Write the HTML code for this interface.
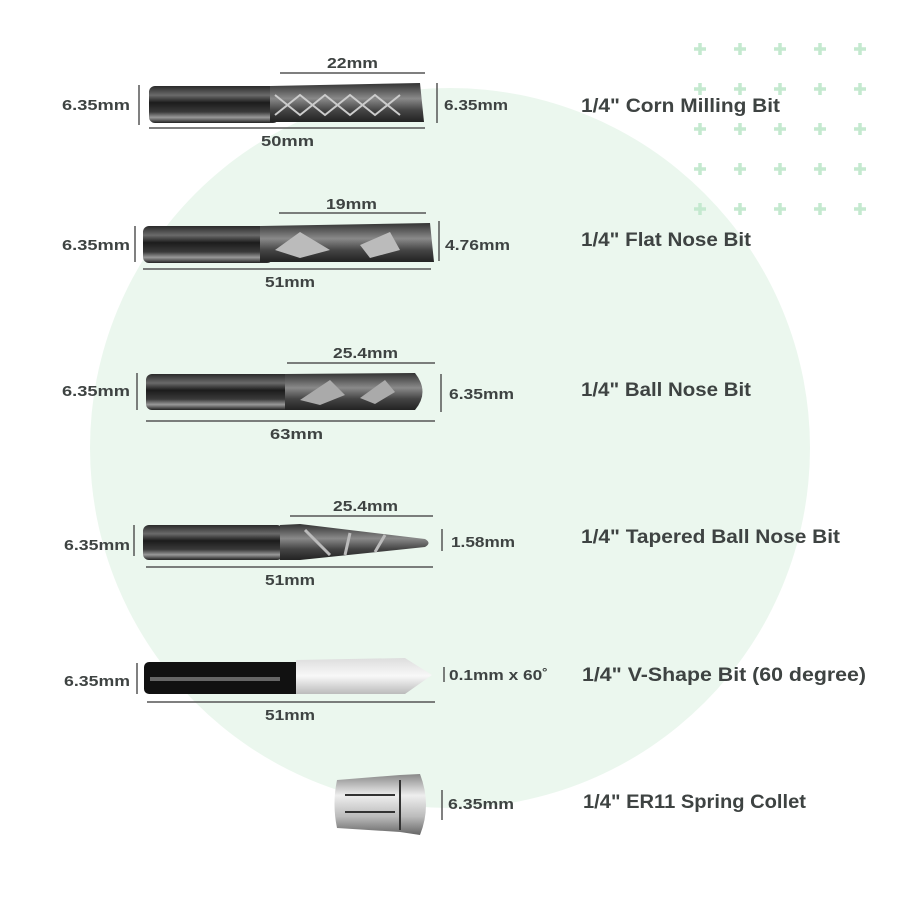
<!DOCTYPE html>
<html><head><meta charset="utf-8"><style>
body{margin:0;background:#fff}
svg{display:block}
text{font-family:"Liberation Sans",sans-serif;font-weight:bold;fill:#3e4342}
.s{font-size:15px}
.t{font-size:19.5px}
.l{stroke:#555;stroke-width:1.5}
</style></head><body>
<svg width="900" height="900" viewBox="0 0 900 900">
<defs>
<linearGradient id="sh" x1="0" y1="0" x2="0" y2="1">
<stop offset="0" stop-color="#2a2a2a"/><stop offset="0.25" stop-color="#6a6a6a"/><stop offset="0.45" stop-color="#1c1c1c"/><stop offset="0.7" stop-color="#3a3a3a"/><stop offset="0.85" stop-color="#999"/><stop offset="1" stop-color="#222"/></linearGradient>
<linearGradient id="fl" x1="0" y1="0" x2="0" y2="1">
<stop offset="0" stop-color="#333"/><stop offset="0.4" stop-color="#8a8a8a"/><stop offset="0.7" stop-color="#444"/><stop offset="1" stop-color="#222"/></linearGradient>
<linearGradient id="sv" x1="0" y1="0" x2="0" y2="1">
<stop offset="0" stop-color="#ddd"/><stop offset="0.5" stop-color="#f8f8f8"/><stop offset="1" stop-color="#bbb"/></linearGradient>
<linearGradient id="co" x1="0" y1="0" x2="0" y2="1">
<stop offset="0" stop-color="#888"/><stop offset="0.35" stop-color="#eee"/><stop offset="0.7" stop-color="#bbb"/><stop offset="1" stop-color="#666"/></linearGradient>
</defs>
<circle cx="450" cy="448" r="360" fill="#ebf7ee"/>
<g stroke="#c4e9cf" stroke-width="3.5">
<path d="M700 43v12M694 49h12M740 43v12M734 49h12M780 43v12M774 49h12M820 43v12M814 49h12M860 43v12M854 49h12"/>
<path d="M700 83v12M694 89h12M740 83v12M734 89h12M780 83v12M774 89h12M820 83v12M814 89h12M860 83v12M854 89h12"/>
<path d="M700 123v12M694 129h12M740 123v12M734 129h12M780 123v12M774 129h12M820 123v12M814 129h12M860 123v12M854 129h12"/>
<path d="M700 163v12M694 169h12M740 163v12M734 169h12M780 163v12M774 169h12M820 163v12M814 169h12M860 163v12M854 169h12"/>
<path d="M700 203v12M694 209h12M740 203v12M734 209h12M780 203v12M774 209h12M820 203v12M814 209h12M860 203v12M854 209h12"/>
</g>

<!-- bit 1 -->
<rect x="149" y="86" width="130" height="37" rx="6" fill="url(#sh)"/>
<path d="M270 86 L420 83 L424 122 L270 122 Z" fill="url(#fl)"/>
<path d="M275 95 L300 115 L325 95 L350 115 L375 95 L400 115 M275 115 L300 95 L325 115 L350 95 L375 115 L400 95" stroke="#ccc" stroke-width="2" fill="none"/>
<line class="l" x1="280" y1="73" x2="425" y2="73"/>
<line class="l" x1="149" y1="128" x2="425" y2="128"/>
<line class="l" x1="139" y1="85" x2="139" y2="125"/>
<line class="l" x1="437" y1="83" x2="437" y2="123"/>
<text class="s" x="327" y="68" textLength="51" lengthAdjust="spacingAndGlyphs">22mm</text>
<text class="s" x="62" y="110" textLength="68" lengthAdjust="spacingAndGlyphs">6.35mm</text>
<text class="s" x="444" y="110" textLength="64" lengthAdjust="spacingAndGlyphs">6.35mm</text>
<text class="s" x="261" y="146" textLength="53" lengthAdjust="spacingAndGlyphs">50mm</text>
<text class="t" x="581" y="112" textLength="199" lengthAdjust="spacingAndGlyphs">1/4" Corn Milling Bit</text>

<!-- bit 2 -->
<rect x="143" y="226" width="130" height="37" rx="6" fill="url(#sh)"/>
<path d="M260 226 L430 223 L434 262 L260 262 Z" fill="url(#fl)"/>
<path d="M275 250 L300 232 L330 250 L300 258 Z M360 245 L390 232 L400 250 L370 258 Z" fill="#bbb"/>
<line class="l" x1="279" y1="213" x2="426" y2="213"/>
<line class="l" x1="143" y1="269" x2="431" y2="269"/>
<line class="l" x1="135" y1="226" x2="135" y2="262"/>
<line class="l" x1="439" y1="221" x2="439" y2="261"/>
<text class="s" x="326" y="209" textLength="51" lengthAdjust="spacingAndGlyphs">19mm</text>
<text class="s" x="62" y="250" textLength="68" lengthAdjust="spacingAndGlyphs">6.35mm</text>
<text class="s" x="445" y="250" textLength="65" lengthAdjust="spacingAndGlyphs">4.76mm</text>
<text class="s" x="265" y="287" textLength="50" lengthAdjust="spacingAndGlyphs">51mm</text>
<text class="t" x="581" y="246" textLength="170" lengthAdjust="spacingAndGlyphs">1/4" Flat Nose Bit</text>

<!-- bit 3 -->
<rect x="146" y="374" width="150" height="36" rx="6" fill="url(#sh)"/>
<path d="M285 374 L415 373 Q430 392 415 410 L285 410 Z" fill="url(#fl)"/>
<path d="M300 400 L330 380 L345 395 L320 405 Z M360 398 L385 380 L395 392 L375 404 Z" fill="#aaa"/>
<line class="l" x1="287" y1="363" x2="435" y2="363"/>
<line class="l" x1="146" y1="421" x2="435" y2="421"/>
<line class="l" x1="137" y1="373" x2="137" y2="410"/>
<line class="l" x1="441" y1="374" x2="441" y2="412"/>
<text class="s" x="333" y="358" textLength="65" lengthAdjust="spacingAndGlyphs">25.4mm</text>
<text class="s" x="62" y="396" textLength="68" lengthAdjust="spacingAndGlyphs">6.35mm</text>
<text class="s" x="449" y="399" textLength="65" lengthAdjust="spacingAndGlyphs">6.35mm</text>
<text class="s" x="270" y="439" textLength="53" lengthAdjust="spacingAndGlyphs">63mm</text>
<text class="t" x="581" y="396" textLength="170" lengthAdjust="spacingAndGlyphs">1/4" Ball Nose Bit</text>

<!-- bit 4 -->
<rect x="143" y="525" width="140" height="35" rx="6" fill="url(#sh)"/>
<path d="M280 525 L300 524 L425 539 Q432 543 425 547 L300 560 L280 560 Z" fill="url(#fl)"/>
<path d="M305 530 L330 555 M350 533 L345 555 M385 535 L375 552" stroke="#bbb" stroke-width="3"/>
<line class="l" x1="290" y1="516" x2="433" y2="516"/>
<line class="l" x1="146" y1="567" x2="433" y2="567"/>
<line class="l" x1="134" y1="525" x2="134" y2="556"/>
<line class="l" x1="442" y1="529" x2="442" y2="551"/>
<text class="s" x="333" y="511" textLength="65" lengthAdjust="spacingAndGlyphs">25.4mm</text>
<text class="s" x="64" y="550" textLength="66" lengthAdjust="spacingAndGlyphs">6.35mm</text>
<text class="s" x="451" y="547" textLength="64" lengthAdjust="spacingAndGlyphs">1.58mm</text>
<text class="s" x="265" y="585" textLength="50" lengthAdjust="spacingAndGlyphs">51mm</text>
<text class="t" x="581" y="543" textLength="259" lengthAdjust="spacingAndGlyphs">1/4" Tapered Ball Nose Bit</text>

<!-- bit 5 -->
<rect x="144" y="662" width="160" height="32" rx="5" fill="#111"/>
<rect x="150" y="677" width="130" height="4" fill="#666"/>
<path d="M296 660 L405 658 L432 675 L405 694 L296 694 Z" fill="url(#sv)"/>
<line class="l" x1="147" y1="702" x2="435" y2="702"/>
<line class="l" x1="137" y1="663" x2="137" y2="694"/>
<line class="l" x1="444" y1="667" x2="444" y2="682"/>
<text class="s" x="64" y="686" textLength="66" lengthAdjust="spacingAndGlyphs">6.35mm</text>
<text class="s" x="449" y="680" textLength="99" lengthAdjust="spacingAndGlyphs">0.1mm x 60˚</text>
<text class="s" x="265" y="720" textLength="50" lengthAdjust="spacingAndGlyphs">51mm</text>
<text class="t" x="582" y="681" textLength="284" lengthAdjust="spacingAndGlyphs">1/4" V-Shape Bit (60 degree)</text>

<!-- collet -->
<path d="M337 780 L400 775 L420 774 Q432 805 420 835 L400 832 L337 828 Q332 804 337 780 Z" fill="url(#co)"/>
<path d="M345 795 H395 M345 812 H395 M400 780 V830" stroke="#333" stroke-width="2"/>
<line class="l" x1="442" y1="790" x2="442" y2="820"/>
<text class="s" x="448" y="809" textLength="66" lengthAdjust="spacingAndGlyphs">6.35mm</text>
<text class="t" x="583" y="808" textLength="223" lengthAdjust="spacingAndGlyphs">1/4" ER11 Spring Collet</text>
</svg>
</body></html>
